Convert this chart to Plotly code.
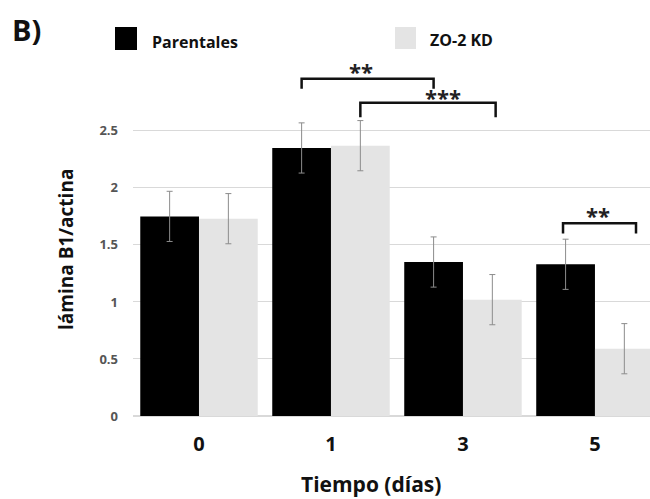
import plotly.graph_objects as go

# ---- data ----
days = ["0", "1", "3", "5"]
parentales = [1.75, 2.35, 1.35, 1.33]
parentales_err = [0.22, 0.22, 0.22, 0.22]
zo2kd = [1.73, 2.37, 1.02, 0.59]
zo2kd_err = [0.22, 0.22, 0.22, 0.22]
y_ticks = [0, 0.5, 1, 1.5, 2, 2.5]
y_ticklabels = ["0", "0.5", "1", "1.5", "2", "2.5"]

FONT = "Open Sans"
W, H = 650, 499
L, R, T, B = 133, 650, 51, 416  # plot area in pixels

def px(x):
    return (x - L) / (R - L)

def py(y):
    return (B - y) / (B - T)

xpos = list(range(len(days)))

fig = go.Figure()
fig.add_trace(go.Bar(
    x=xpos, y=parentales, name="Parentales",
    marker=dict(color="#000000", line=dict(width=0)),
    error_y=dict(type="data", array=parentales_err, color="#8c8c8c", thickness=1, width=3),
))
fig.add_trace(go.Bar(
    x=xpos, y=zo2kd, name="ZO-2 KD",
    marker=dict(color="#e4e4e4", line=dict(width=0)),
    error_y=dict(type="data", array=zo2kd_err, color="#8c8c8c", thickness=1, width=3),
))

# significance brackets: (x_left, x_right, y_top, y_end, label, label_x, yshift)
brackets = [
    (0.7775, 1.7775, 2.956, 2.87, "**", 1.23, -9),
    (1.2225, 2.2475, 2.746, 2.62, "***", 1.85, -11),
    (2.758, 3.311, 1.69, 1.60, "**", 3.02, -9),
]
shapes = []
annotations = []
for xl, xr, yt, ye, lab, lx, ys in brackets:
    shapes.append(dict(
        type="path", xref="x", yref="y",
        path=f"M {xl},{ye} L {xl},{yt} L {xr},{yt} L {xr},{ye}",
        line=dict(color="#111111", width=2.5),
    ))
    annotations.append(dict(
        x=lx, y=yt, xref="x", yref="y", text=f"<b>{lab}</b>", showarrow=False,
        yanchor="bottom", yshift=ys, font=dict(family=FONT, size=22, color="#222222"),
    ))

# legend drawn manually
shapes.append(dict(type="rect", xref="paper", yref="paper",
                   x0=px(115), x1=px(137), y0=py(50), y1=py(27),
                   fillcolor="#000000", line=dict(width=0)))
shapes.append(dict(type="rect", xref="paper", yref="paper",
                   x0=px(395), x1=px(416), y0=py(49), y1=py(27),
                   fillcolor="#e4e4e4", line=dict(width=0)))
annotations.append(dict(x=px(150), y=py(42), xref="paper", yref="paper",
                        text="<b>Parentales</b>", showarrow=False, xanchor="left", yanchor="middle",
                        font=dict(family=FONT, size=16, color="#111111")))
annotations.append(dict(x=px(428), y=py(40), xref="paper", yref="paper",
                        text="<b>ZO-2 KD</b>", showarrow=False, xanchor="left", yanchor="middle",
                        font=dict(family=FONT, size=16, color="#111111")))
annotations.append(dict(x=px(10), y=py(29), xref="paper", yref="paper",
                        text="<b>B)</b>", showarrow=False, xanchor="left", yanchor="middle",
                        font=dict(family=FONT, size=29, color="#111111")))
# axis titles
annotations.append(dict(x=px(371), y=py(484), xref="paper", yref="paper",
                        text="<b>Tiempo (días)</b>", showarrow=False, xanchor="center", yanchor="middle",
                        font=dict(family=FONT, size=21, color="#111111")))
annotations.append(dict(x=px(66), y=py(250), xref="paper", yref="paper", textangle=-90,
                        text="<b>lámina B1/actina</b>", showarrow=False, xanchor="center", yanchor="middle",
                        font=dict(family=FONT, size=19, color="#111111")))

fig.update_layout(
    width=W, height=H,
    margin=dict(l=L, r=W - R, t=T, b=H - B, autoexpand=False),
    paper_bgcolor="white", plot_bgcolor="white",
    barmode="group", bargap=0.11, bargroupgap=0,
    showlegend=False,
    shapes=shapes, annotations=annotations,
    font=dict(family=FONT),
)
fig.update_xaxes(
    automargin=False,
    range=[-0.5, 3.417], tickvals=xpos, ticktext=[f"<b>{d}</b>" for d in days],
    tickfont=dict(family=FONT, size=20, color="#111111"),
    showgrid=False, zeroline=False, showline=False, ticks="",
    ticklabelstandoff=14,
)
fig.update_yaxes(
    automargin=False,
    range=[0, 3.2], tickvals=y_ticks, ticktext=[f"<b>{t}</b>" for t in y_ticklabels],
    tickfont=dict(family=FONT, size=13, color="#555555"),
    showgrid=True, gridcolor="#d9d9d9", gridwidth=1,
    zeroline=True, zerolinecolor="#d9d9d9", showline=False, ticks="",
    ticklabelstandoff=14,
)

fig.write_html(
    "out.html",
    config={"displayModeBar": False},
    post_script="document.body.style.margin='0';document.body.style.overflow='hidden';",
)
